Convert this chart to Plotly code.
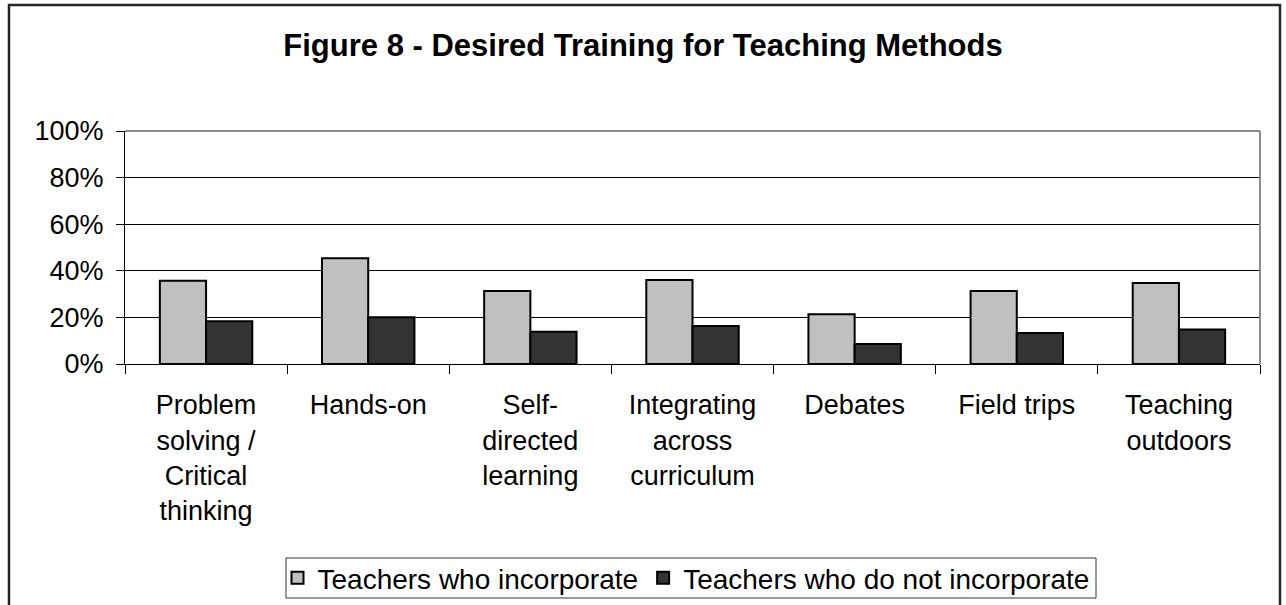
import plotly.graph_objects as go

categories = [
    "Problem<br>solving /<br>Critical<br>thinking",
    "Hands-on",
    "Self-<br>directed<br>learning",
    "Integrating<br>across<br>curriculum",
    "Debates",
    "Field trips",
    "Teaching<br>outdoors",
]
incorporate = [0.357, 0.454, 0.313, 0.361, 0.214, 0.313, 0.348]
not_incorporate = [0.183, 0.201, 0.138, 0.163, 0.086, 0.133, 0.148]
series_names = ["Teachers who incorporate", "Teachers who do not incorporate"]
y_ticks = [0, 0.2, 0.4, 0.6, 0.8, 1.0]

W, H = 1286, 605
ML, MR, MT, MB = 125, 26, 131, 241
PW, PH = W - ML - MR, H - MT - MB

def px_x(x):
    return (x - ML) / PW

def px_y(y):
    return (H - MB - y) / PH

FONT = "Liberation Sans, Arial, sans-serif"

fig = go.Figure()
fig.add_trace(go.Bar(x=categories, y=incorporate, name=series_names[0],
                     marker=dict(color="#C0C0C0", line=dict(color="black", width=2))))
fig.add_trace(go.Bar(x=categories, y=not_incorporate, name=series_names[1],
                     marker=dict(color="#333333", line=dict(color="black", width=2))))

fig.update_layout(
    width=W, height=H,
    margin=dict(l=ML, r=MR, t=MT, b=MB, autoexpand=False),
    paper_bgcolor="white", plot_bgcolor="white",
    font=dict(family=FONT, size=27, color="black"),
    barmode="group", bargap=0.43, bargroupgap=0,
    title=dict(text="<b>Figure 8 - Desired Training for Teaching Methods</b>",
               x=0.5, xref="container", xanchor="center",
               y=1 - 45 / H, yref="container", yanchor="middle",
               font=dict(family=FONT, size=31, color="black")),
    showlegend=True,
    legend=dict(orientation="h", x=px_x(686), xanchor="center", y=px_y(578), yanchor="middle",
                borderwidth=0, bgcolor="rgba(0,0,0,0)",
                font=dict(family=FONT, size=28, color="black"),
                itemsizing="constant", tracegroupgap=0),
    xaxis=dict(showline=True, linecolor="black", linewidth=1,
               ticks="outside", tickson="boundaries", ticklen=9, tickcolor="black",
               showgrid=False, tickfont=dict(family=FONT, size=27, color="black"),
               ticklabelstandoff=17),
    yaxis=dict(range=[0, 1], tickvals=y_ticks, tickformat=".0%",
               showline=True, linecolor="black", linewidth=1,
               ticks="outside", ticklen=8, tickcolor="black",
               showgrid=True, gridcolor="black", gridwidth=1,
               zeroline=False, tickfont=dict(family=FONT, size=27, color="black"),
               ticklabelstandoff=7),
    shapes=[
        dict(type="line", xref="paper", yref="paper", x0=0, x1=1, y0=1, y1=1,
             line=dict(color="#8c8c8c", width=2)),
        dict(type="line", xref="paper", yref="paper", x0=1, x1=1, y0=0, y1=1,
             line=dict(color="#8c8c8c", width=2)),
        dict(type="rect", xref="paper", yref="paper",
             x0=px_x(286), x1=px_x(1096), y0=px_y(598), y1=px_y(558),
             line=dict(color="#333333", width=1), fillcolor="rgba(0,0,0,0)", layer="above"),
        dict(type="rect", xref="paper", yref="paper",
             x0=px_x(9), x1=px_x(1280), y0=px_y(615), y1=px_y(5),
             line=dict(color="#262626", width=2.5), fillcolor="rgba(0,0,0,0)", layer="above"),
    ],
)

fig.write_html(
    "out.html",
    config={"displayModeBar": False},
    post_script="document.body.style.margin='0';document.body.style.padding='0';"
                "document.body.style.overflow='hidden';",
)
